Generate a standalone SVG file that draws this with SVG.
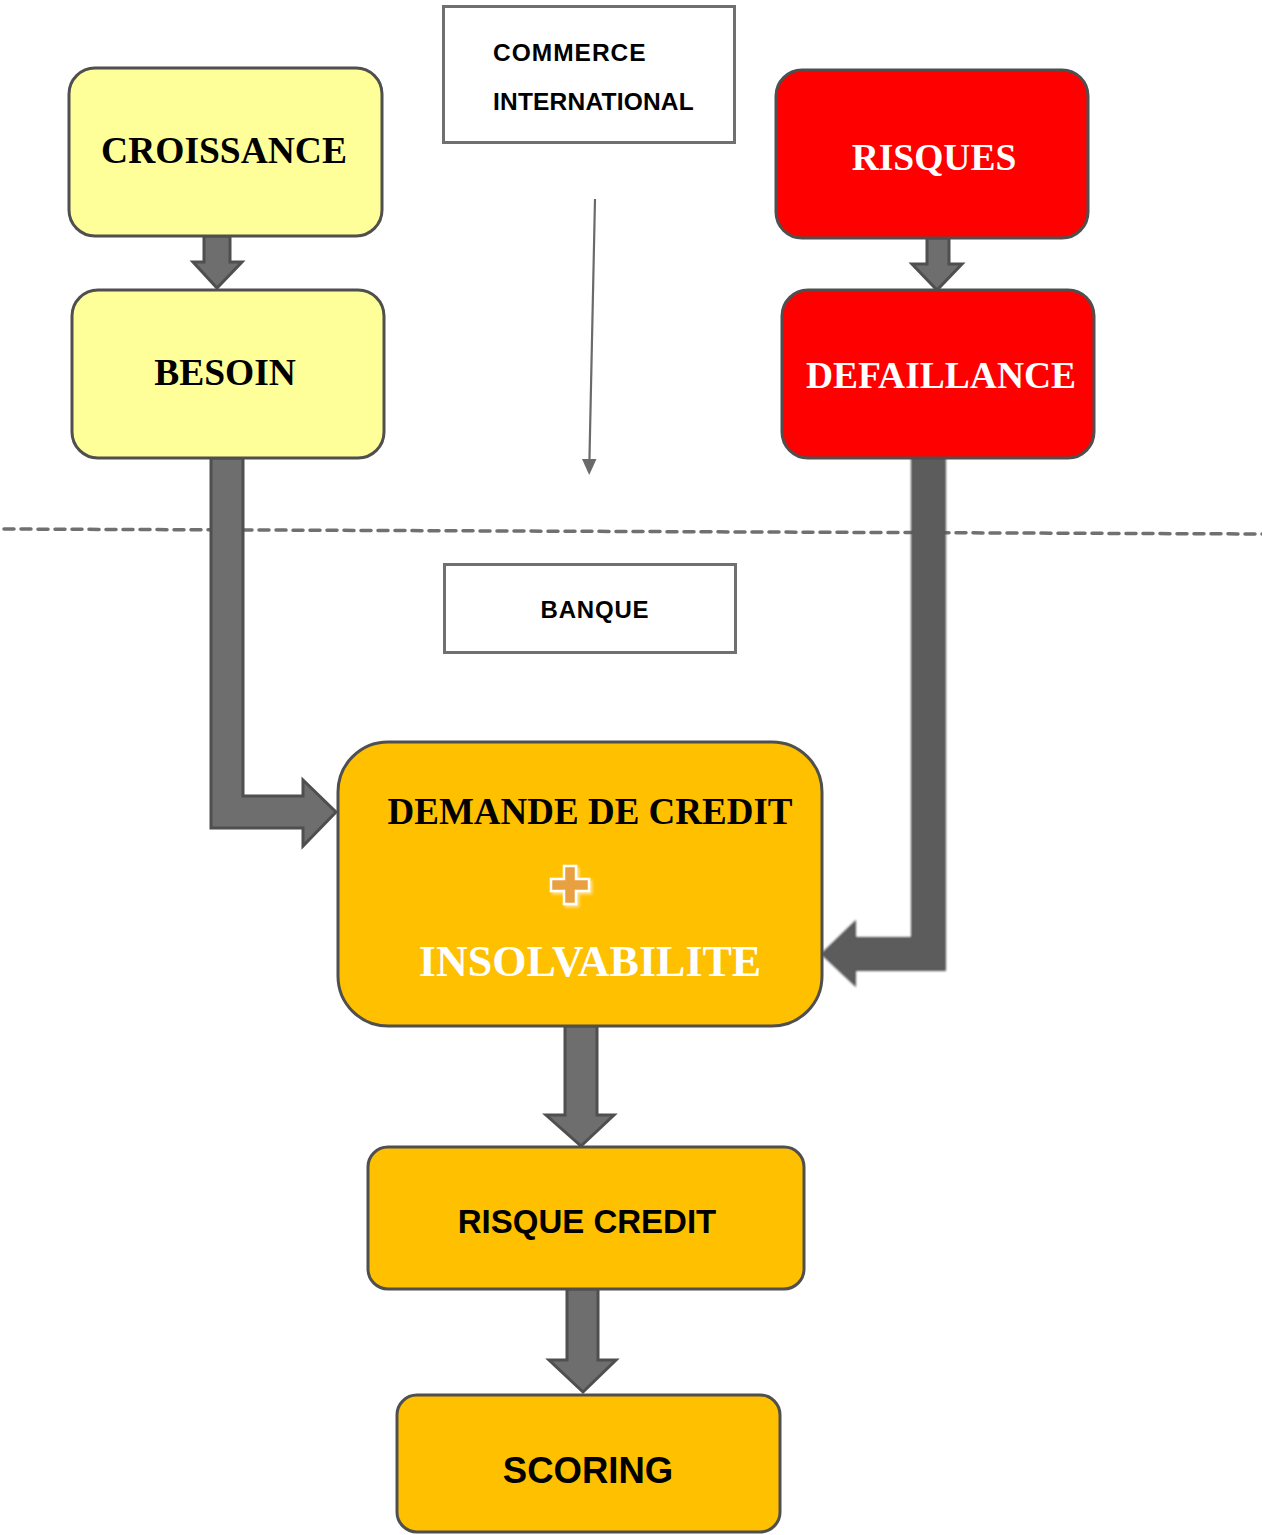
<svg xmlns="http://www.w3.org/2000/svg" width="1262" height="1535" viewBox="0 0 1262 1535">
  <defs>
    <style>
      .yellow { fill: #FFFF99; stroke: #4f4f4f; stroke-width: 3; }
      .red { fill: #FF0000; stroke: #4f4f4f; stroke-width: 3; }
      .gold { fill: #FFC000; stroke: #4f4f4f; stroke-width: 3; }
      .label { fill: #FFFFFF; stroke: #707070; stroke-width: 3; }
      .serif { font-family: "Liberation Serif", "Times New Roman", serif; font-weight: bold; text-anchor: middle; }
      .sans { font-family: "Liberation Sans", Arial, sans-serif; font-weight: bold; }
      .block { fill: #6e6e6e; stroke: #4f4f4f; stroke-width: 3; stroke-linejoin: miter; }
      .block-dark { fill: #5c5c5c; stroke: #555555; stroke-width: 2; }
    </style>
    <filter id="soft" x="-10%" y="-10%" width="120%" height="120%">
      <feGaussianBlur stdDeviation="0.8"/>
    </filter>
    <filter id="plusShadow" x="-30%" y="-30%" width="160%" height="160%">
      <feDropShadow dx="2" dy="2" stdDeviation="1.5" flood-color="#ffffff" flood-opacity="0.6"/>
    </filter>
  </defs>

  <!-- separator between the trade zone and the bank zone -->
  <line x1="4" y1="529" x2="1262" y2="534" stroke="#707070" stroke-width="3.5" stroke-linecap="round" stroke-dasharray="10 7"/>

  <g id="connectors">
    <!-- CROISSANCE -> BESOIN -->
    <path class="block" d="M204,236 L230,236 L230,262 L242,262 L217,288 L193,262 L204,262 Z"/>
    <!-- RISQUES -> DEFAILLANCE -->
    <path class="block" d="M927,238 L949,238 L949,264 L962,264 L937,290 L912,264 L927,264 Z"/>
    <!-- trade flow indicator -->
    <line x1="595" y1="199" x2="589.4" y2="462" stroke="#6a6a6a" stroke-width="2.2"/>
    <path d="M582,459 L596.5,459 L589.2,475 Z" fill="#6a6a6a"/>
    <!-- BESOIN -> DEMANDE DE CREDIT -->
    <path class="block" d="M211,458 L243,458 L243,796 L303,796 L303,780 L336,812 L303,846 L303,828 L211,828 Z"/>
    <!-- DEFAILLANCE -> INSOLVABILITE -->
    <path class="block-dark" filter="url(#soft)" d="M912,458 L945,458 L945,970 L855,970 L855,985 L822,954 L855,922 L855,938 L912,938 Z"/>
    <!-- DEMANDE -> RISQUE CREDIT -->
    <path class="block" d="M565,1026 L597,1026 L597,1115 L614,1115 L581,1146 L546,1115 L565,1115 Z"/>
    <!-- RISQUE CREDIT -> SCORING -->
    <path class="block" d="M567,1289 L598,1289 L598,1360 L616,1360 L583,1392 L549,1360 L567,1360 Z"/>
  </g>

  <g id="croissance">
    <rect class="yellow" x="69" y="68" width="313" height="168" rx="26"/>
    <text class="serif" x="224" y="163" font-size="37.5">CROISSANCE</text>
  </g>

  <g id="besoin">
    <rect class="yellow" x="72" y="290" width="312" height="168" rx="26"/>
    <text class="serif" x="225" y="385" font-size="37.5">BESOIN</text>
  </g>

  <g id="commerce-international">
    <rect class="label" x="443.5" y="6.5" width="291" height="136"/>
    <text class="sans" x="493" y="61" font-size="24.5" letter-spacing="1">COMMERCE</text>
    <text class="sans" x="493" y="110" font-size="24.5" letter-spacing="0.2">INTERNATIONAL</text>
  </g>

  <g id="risques">
    <rect class="red" x="776" y="70" width="312" height="168" rx="26"/>
    <text class="serif" x="934" y="170" font-size="37.5" fill="#FFFFFF">RISQUES</text>
  </g>

  <g id="defaillance">
    <rect class="red" x="782" y="290" width="312" height="168" rx="26"/>
    <text class="serif" x="941" y="388" font-size="37.5" fill="#FFFFFF">DEFAILLANCE</text>
  </g>

  <g id="banque">
    <rect class="label" x="444.5" y="564.5" width="291" height="88"/>
    <text class="sans" x="595" y="618" font-size="24" letter-spacing="0.8" text-anchor="middle">BANQUE</text>
  </g>

  <g id="demande-credit">
    <rect class="gold" x="338" y="742" width="484" height="284" rx="50"/>
    <text class="serif" x="590" y="824" font-size="37">DEMANDE DE CREDIT</text>
    <path filter="url(#plusShadow)" d="M564,866 L576,866 L576,879 L589,879 L589,891 L576,891 L576,904 L564,904 L564,891 L551,891 L551,879 L564,879 Z" fill="#E8A040" stroke="#FFFFFF" stroke-width="2.5"/>
    <text class="serif" x="590" y="976" font-size="44" fill="#FFFFFF">INSOLVABILITE</text>
  </g>

  <g id="risque-credit">
    <rect class="gold" x="368" y="1147" width="436" height="142" rx="20"/>
    <text class="sans" x="587" y="1233" font-size="33" text-anchor="middle">RISQUE CREDIT</text>
  </g>

  <g id="scoring">
    <rect class="gold" x="397" y="1395" width="383" height="137" rx="20"/>
    <text class="sans" x="588" y="1483" font-size="36.5" text-anchor="middle">SCORING</text>
  </g>
</svg>
